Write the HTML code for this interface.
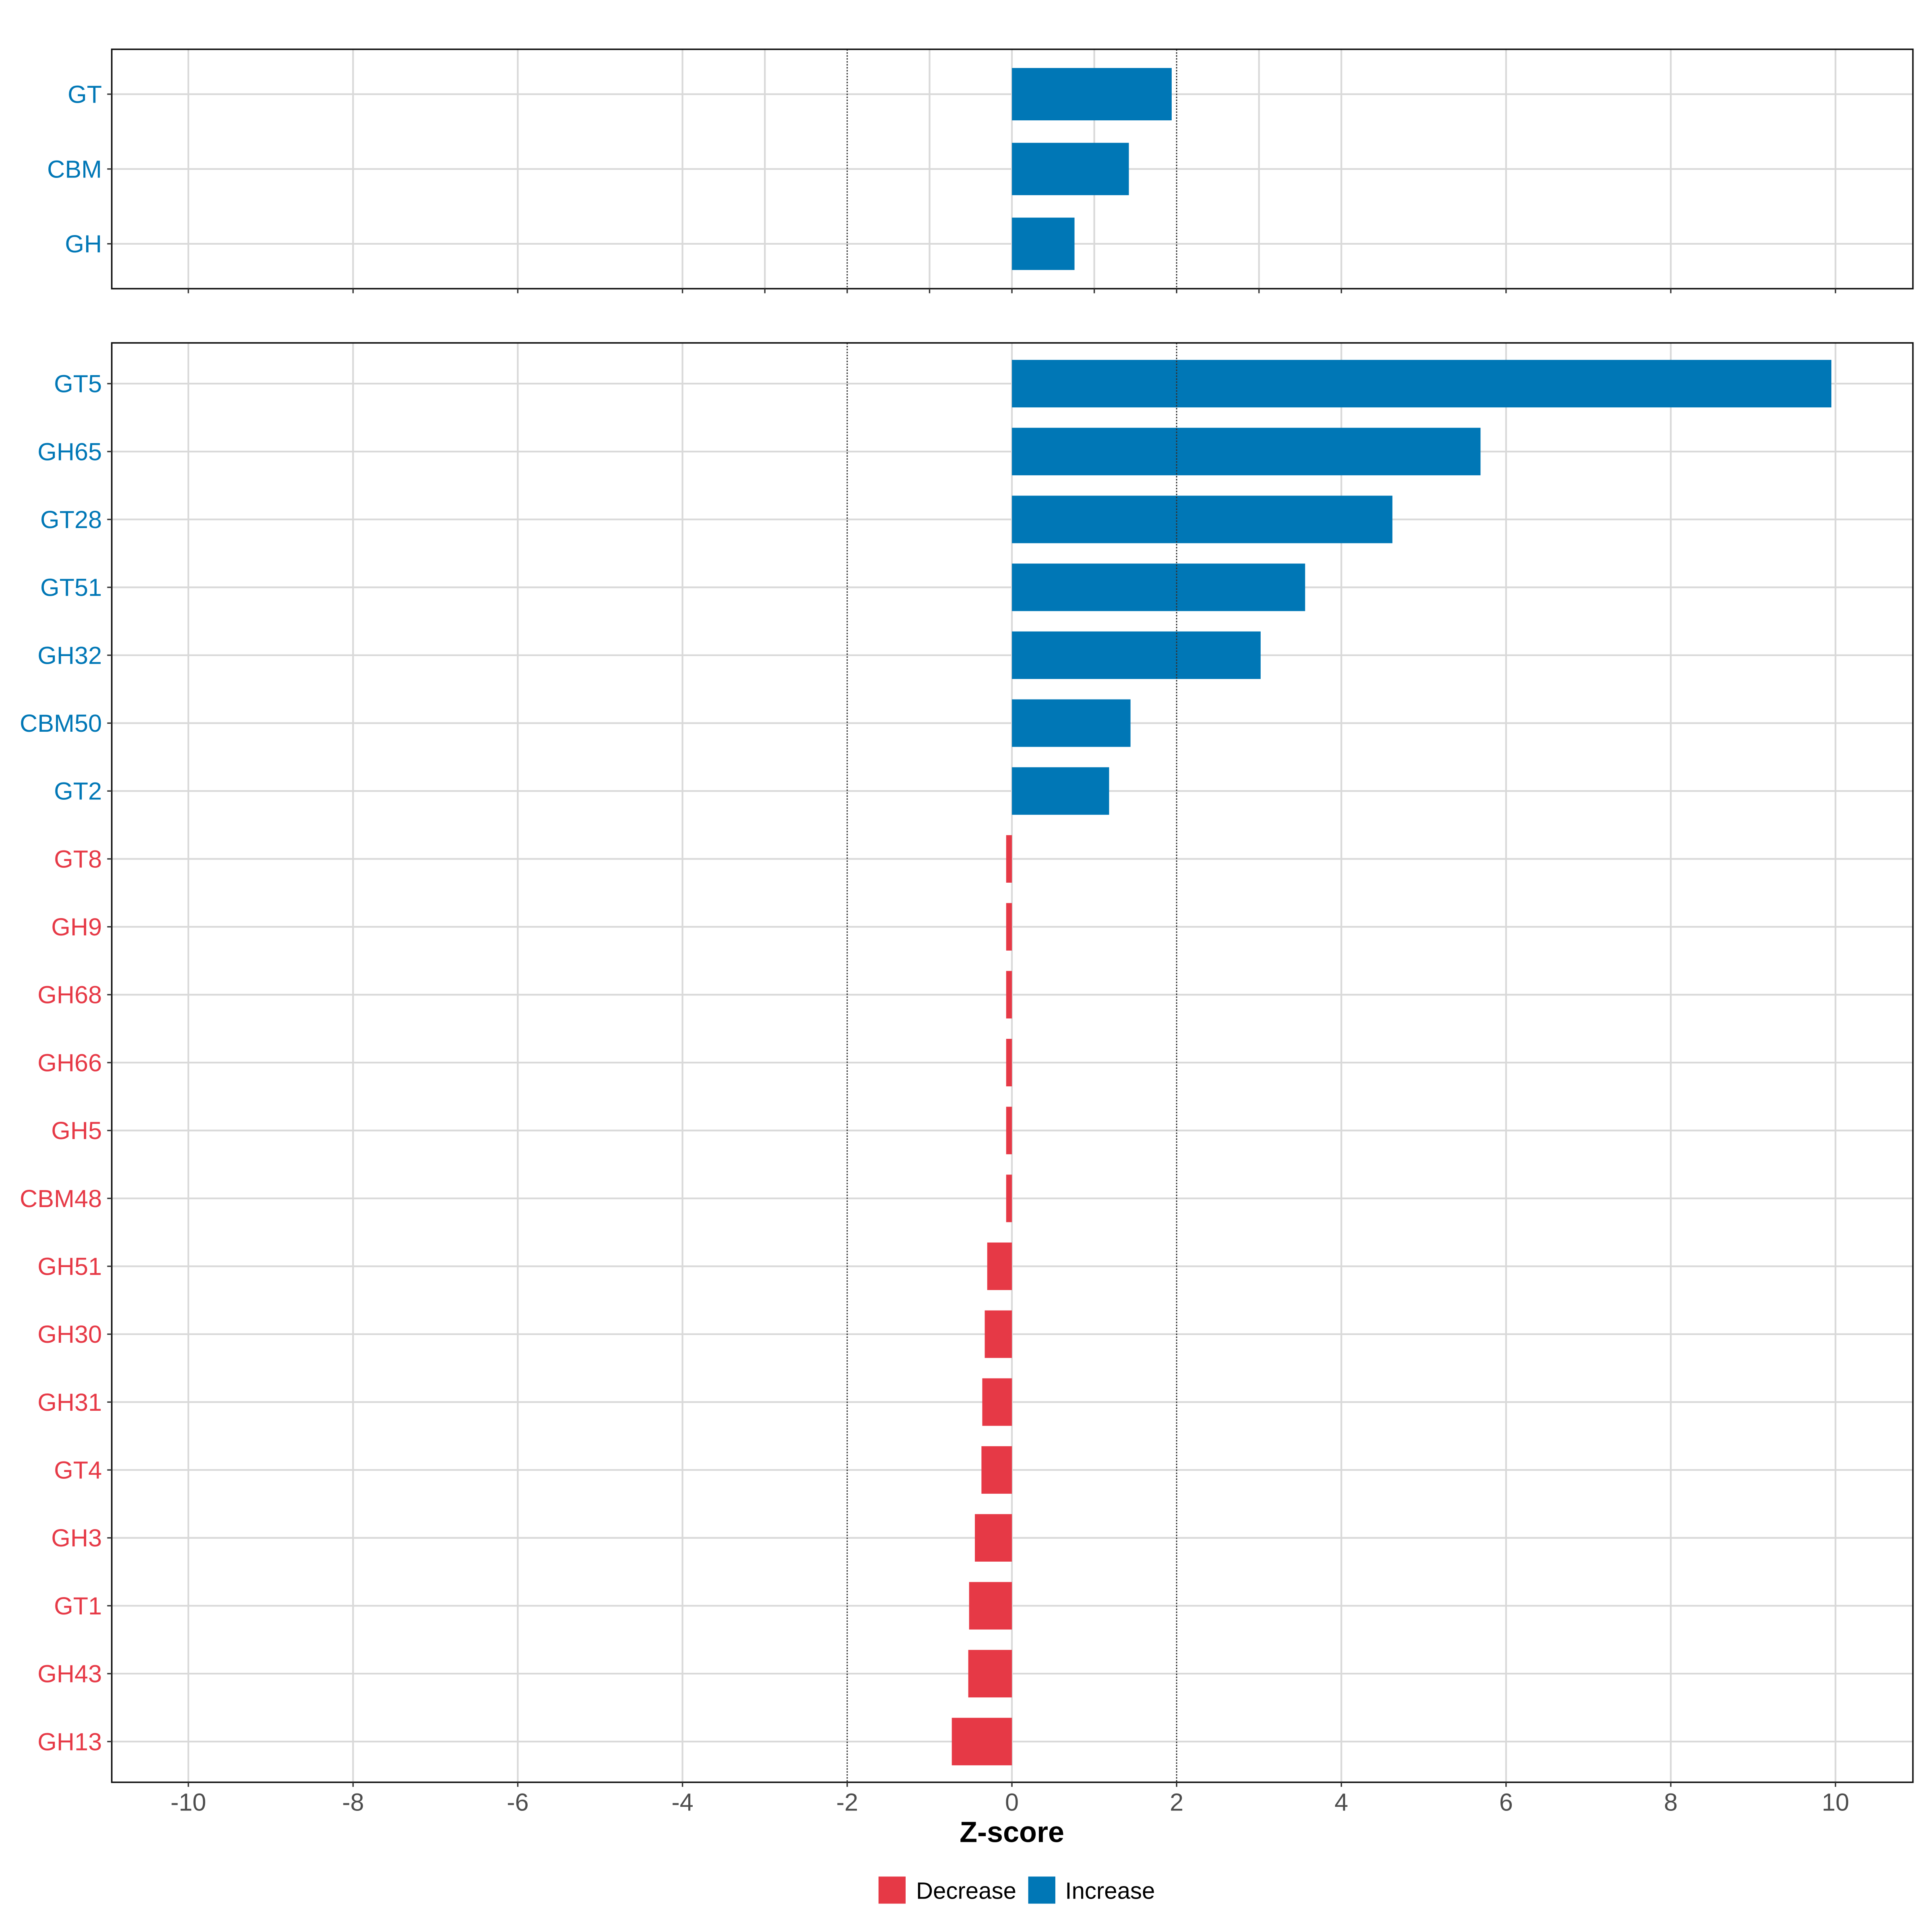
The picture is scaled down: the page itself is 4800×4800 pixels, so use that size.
<!DOCTYPE html>
<html><head><meta charset="utf-8"><style>
html,body{margin:0;padding:0;background:#fff;}
svg{display:block;}
text{font-family:"Liberation Sans",Arial,sans-serif;}
</style></head><body>
<svg id="chart" width="4800" height="4800" viewBox="0 0 1568 1568" xmlns="http://www.w3.org/2000/svg"></svg>
<script>
const topCats = ["GT","CBM","GH"];
const topVals = [1.94, 1.42, 0.76];
const botCats = ["GT5","GH65","GT28","GT51","GH32","CBM50","GT2","GT8","GH9","GH68","GH66","GH5","CBM48","GH51","GH30","GH31","GT4","GH3","GT1","GH43","GH13"];
const botVals = [9.95, 5.69, 4.62, 3.56, 3.02, 1.44, 1.18, -0.07, -0.07, -0.07, -0.07, -0.07, -0.07, -0.30, -0.33, -0.36, -0.37, -0.45, -0.52, -0.53, -0.73];
const xTickVals = [-10,-8,-6,-4,-2,0,2,4,6,8,10];
const xTickLabels = ["-10","-8","-6","-4","-2","0","2","4","6","8","10"];
const topExtraTicks = [-3,-1,1,3];
const refLines = [-2, 2];

const NS = "http://www.w3.org/2000/svg";
const svg = document.getElementById("chart");
const BLUE = "#0077b6", RED = "#e63946";
const L = 90.7, R = 1552.5;
const xMin = -10.93, xMax = 10.94;
function xs(v){ return L + (v - xMin) / (xMax - xMin) * (R - L); }
function el(tag, attrs, parent){
  const e = document.createElementNS(NS, tag);
  for (const k in attrs) e.setAttribute(k, attrs[k]);
  (parent || svg).appendChild(e);
  return e;
}
function panel(name, cats, vals, top, bottom, extra, showLabels){
  const g = el("g", {});
  
  
  const n = cats.length;
  const band = (bottom - top) / (n - 1 + 1.2);
  const ys = i => top + band * (0.6 + i);
  const gridX = xTickVals.concat(extra).filter(v => refLines.indexOf(v) < 0);
  gridX.forEach(v => {
    const ln = el("line", {x1: xs(v), x2: xs(v), y1: top, y2: bottom, stroke: "#d9d9d9", "stroke-width": 1.4}, g);
    
    
  });
  cats.forEach((c, i) => {
    const ln = el("line", {x1: L, x2: R, y1: ys(i), y2: ys(i), stroke: "#d9d9d9", "stroke-width": 1.4}, g);
    
    
  });
  vals.forEach((v, i) => {
    const x0 = xs(Math.min(0, v)), x1 = xs(Math.max(0, v));
    const r = el("rect", {x: x0, y: ys(i) - band * 0.35, width: x1 - x0, height: band * 0.7, fill: v >= 0 ? BLUE : RED}, g);
    
    
  });
  refLines.forEach(v => {
    const ln = el("line", {x1: xs(v), x2: xs(v), y1: top, y2: bottom, stroke: "#333", "stroke-width": 1, "stroke-dasharray": "1.2,1.2"}, g);
    
    
  });
  const fr = el("rect", {x: L, y: top, width: R - L, height: bottom - top, fill: "none", stroke: "#111", "stroke-width": 1.2}, g);
  
  
  cats.forEach((c, i) => {
    const v = vals[i];
    el("line", {x1: L - 3.7, x2: L, y1: ys(i), y2: ys(i), stroke: "#333", "stroke-width": 1.1}, g);
    const t = el("text", {x: L - 8, y: ys(i) + 7, "text-anchor": "end", "font-size": 20, fill: v >= 0 ? BLUE : RED}, g);
    t.textContent = c;
    
    
  });
  xTickVals.concat(extra).forEach(v => {
    el("line", {x1: xs(v), x2: xs(v), y1: bottom, y2: bottom + 3.7, stroke: "#333", "stroke-width": 1.1}, g);
  });
  if (showLabels) {
    xTickVals.forEach((v, i) => {
      const t = el("text", {x: xs(v), y: bottom + 23, "text-anchor": "middle", "font-size": 20, fill: "#4d4d4d"}, g);
      t.textContent = xTickLabels[i];
      
      
    });
  }
}
panel("top-panel", topCats, topVals, 40, 234.3, topExtraTicks, false);
panel("bottom-panel", botCats, botVals, 278.3, 1446.5, [], true);

const xt = el("text", {x: xs(0), y: 1495, "text-anchor": "middle", "font-size": 23.5, "font-weight": "bold", fill: "#000"});
xt.textContent = "Z-score";



const lg = el("g", {});


const k1 = el("rect", {x: 713, y: 1523, width: 22, height: 22, fill: RED}, lg);


const t1 = el("text", {x: 743.5, y: 1541, "font-size": 19, fill: "#000"}, lg);
t1.textContent = "Decrease";


const k2 = el("rect", {x: 834.5, y: 1523, width: 22, height: 22, fill: BLUE}, lg);


const t2 = el("text", {x: 864.5, y: 1541, "font-size": 19, fill: "#000"}, lg);
t2.textContent = "Increase";


</script>
</body></html>
